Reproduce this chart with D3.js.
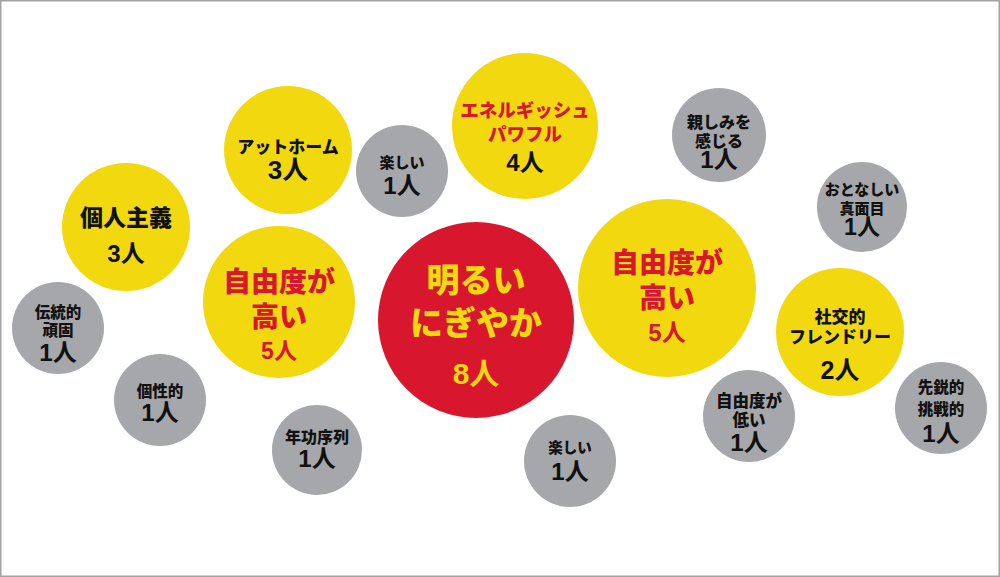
<!DOCTYPE html>
<html><head><meta charset="utf-8">
<script src="https://cdn.jsdelivr.net/npm/d3@7"></script>
<style>html,body{margin:0;padding:0;background:#fff;}svg{display:block;}</style>
</head><body>
<svg id="chart" width="1000" height="577"></svg>
<script>
// ---- data ----
const labels = ["個人主義","アットホーム","楽しい","エネルギッシュ\nパワフル","親しみを\n感じる","おとなしい\n真面目","明るい\nにぎやか","自由度が\n高い","自由度が\n高い","伝統的\n頑固","個性的","年功序列","楽しい","社交的\nフレンドリー","自由度が\n低い","先鋭的\n挑戦的"];
const counts = [3,3,1,4,1,1,8,5,5,1,1,1,1,2,1,1];
const unit = "人";

// ---- layout (bubble placement, in a 1000x577 design space) ----
const posX = [126,288,402,525,719,862,476,667,279,58,160,317,570,840,749,941];
const posY = [227,150,171,126,135,207,320,288,302,328,400,450,461,332,416,408];
const radii = [64,64,46,73,47,45,98,89,76,46,46,45,46,64,46,46];
const labelSize = [23,17,15,18.5,16,15,33,28,28,15.5,15.5,16,14.5,17,16.5,15.5];
const countSize = [24,26,24,24,24,23,30,24,23,24,24,24,24,25,24,24];
const labelOffsets = [[-11],[-5],[-10],[-17,7],[-14,5],[-19,0],[-42,1],[-27,8],[-22,13],[-17,1],[-10],[-14],[-15],[-17,3],[-16,3],[-22,0]];
const countOffset = [26,20,14,36,24,20,53,44,49,24,12,8,10,38,26,25];

const W = 1000, H = 577;
const x = d3.scaleLinear().domain([0,1000]).range([0,W]);
const y = d3.scaleLinear().domain([0,577]).range([0,H]);
const fill = d3.scaleThreshold().domain([2,8]).range(["#A6A7AA","#F2D90F","#D8172F"]);
const labelColor = c => c === 8 ? "#F2D90F" : (c === 4 || c === 5) ? "#D8172F" : "#111";
const countColor = c => c === 8 ? "#F2D90F" : c === 5 ? "#D8172F" : "#111";

const svg = d3.select("#chart");
svg.append("rect").attr("x",0.75).attr("y",0.75).attr("width",W-1.5).attr("height",H-1.5)
  .attr("fill","#fff").attr("stroke","#A3A3A6").attr("stroke-width",1.5);

const nodes = labels.map((l,i)=>({label:l, count:counts[i], i}));
const font = "'Noto Sans CJK JP','Noto Sans',sans-serif";
const numFont = "'Liberation Sans','Noto Sans CJK JP',sans-serif";

const g = svg.selectAll("g.bubble").data(nodes).join("g").attr("class","bubble")
  .attr("transform", d=>`translate(${x(posX[d.i])},${y(posY[d.i])})`);

g.append("circle").attr("r", d=>radii[d.i]).attr("fill", d=>fill(d.count));

g.each(function(d){
  const sel = d3.select(this);
  d.label.split("\n").forEach((line,k)=>{
    sel.append("text").text(line)
      .attr("y", labelOffsets[d.i][k])
      .attr("text-anchor","middle").attr("dominant-baseline","central")
      .attr("font-family",font).attr("font-weight",900)
      .attr("font-size",labelSize[d.i])
      .attr("fill",labelColor(d.count));
  });
  sel.append("text").text(d.count + unit)
    .attr("y", countOffset[d.i])
    .attr("text-anchor","middle").attr("dominant-baseline","central")
    .attr("font-family",numFont).attr("font-weight",700)
    .attr("font-size",countSize[d.i])
    .attr("fill",countColor(d.count));
});
</script>
</body></html>
